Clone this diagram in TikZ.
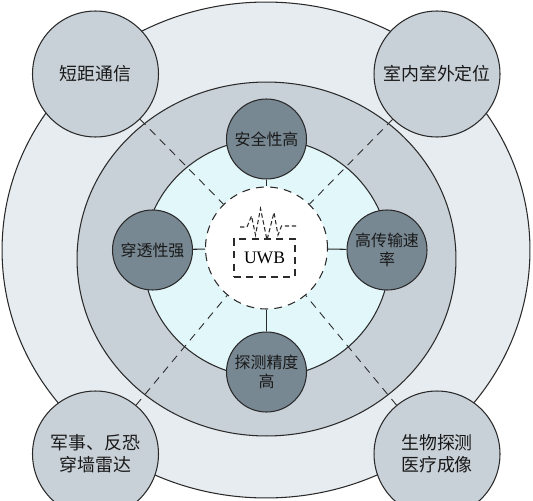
\documentclass[tikz,border=0pt]{standalone}
\usepackage{fontspec}
\setmainfont{Liberation Serif}
\newfontfamily\cjk{Noto Sans CJK SC}
\usepackage{tikz}

\definecolor{ringouter}{HTML}{E7ECF0}
\definecolor{ringmid}{HTML}{C9D1D8}
\definecolor{ringinner}{HTML}{E2F7FA}
\definecolor{featfill}{HTML}{788893}
\definecolor{edge}{HTML}{2A2A2A}

\tikzstyle{ring} = [draw=edge, line width=0.6pt]
\tikzstyle{app} = [circle, draw=edge, line width=0.6pt, fill=ringmid, minimum size=2.52cm, inner sep=0pt, align=center, text=black!90, font=\cjk\fontsize{10.2}{12.6}\selectfont]
\tikzstyle{feat} = [circle, draw=edge, line width=0.6pt, fill=featfill, minimum size=1.6cm, inner sep=0pt, align=center, text=black!90, font=\cjk\fontsize{9.1}{10.8}\selectfont]
\tikzstyle{link} = [draw=edge, line width=0.5pt, dash pattern=on 4.5pt off 3.5pt]

\begin{document}
\begin{tikzpicture}[x=0.02cm, y=-0.02cm]

    \useasboundingbox (0,0) rectangle (533,500);

    % Rings
    \filldraw[ring, fill=ringouter] (266,250) ellipse [x radius=5.28cm, y radius=4.96cm];
    \filldraw[ring, fill=ringmid] (266.5,259) ellipse [x radius=3.79cm, y radius=3.54cm];
    \filldraw[ring, fill=ringinner] (266.5,258) ellipse [x radius=2.46cm, y radius=2.38cm];

    % Centre
    \node[circle, draw=edge, line width=0.6pt, fill=white, dash pattern=on 4.5pt off 3.5pt, minimum size=2.44cm] (uwb) at (266.5,248) {};
    \node[draw=edge, line width=0.6pt, dash pattern=on 4pt off 3pt, minimum width=1.22cm, minimum height=0.76cm, inner sep=0pt, font=\fontsize{10}{11}\selectfont] (uwbbox) at (264.5,258) {UWB};
    \draw[edge, line width=0.6pt, dash pattern=on 2.5pt off 1.5pt] (240,227) -- (247,227) -- (251.5,216) -- (255.5,235) -- (260.5,208.5) -- (267,240) -- (274,212.5) -- (278,235) -- (281.5,226) -- (296,226);

    % Applications
    \node[app] (shortcom) at (95.5,74) {短距通信};
    \node[app] (locate) at (437,74) {室内室外定位};
    \node[app] (radar) at (95.5,454) {军事、反恐\\穿墙雷达};
    \node[app] (medical) at (437,454) {生物探测\\医疗成像};

    \draw[link] (shortcom) -- (uwb);
    \draw[link] (locate) -- (uwb);
    \draw[link] (radar) -- (uwb);
    \draw[link] (medical) -- (uwb);

    % Features
    \node[feat] (secure) at (266.5,139) {安全性高};
    \node[feat] (penetrate) at (152.5,250) {穿透性强};
    \node[feat] (rate) at (387,250) {高传输速\\率};
    \node[feat] (precise) at (266.5,372) {探测精度\\高};

    \draw[edge, line width=0.6pt] (secure) -- (uwb);
    \draw[edge, line width=0.6pt] (penetrate) -- (uwb);
    \draw[edge, line width=0.6pt] (rate) -- (uwb);
    \draw[edge, line width=0.6pt] (precise) -- (uwb);

\end{tikzpicture}
\end{document}
